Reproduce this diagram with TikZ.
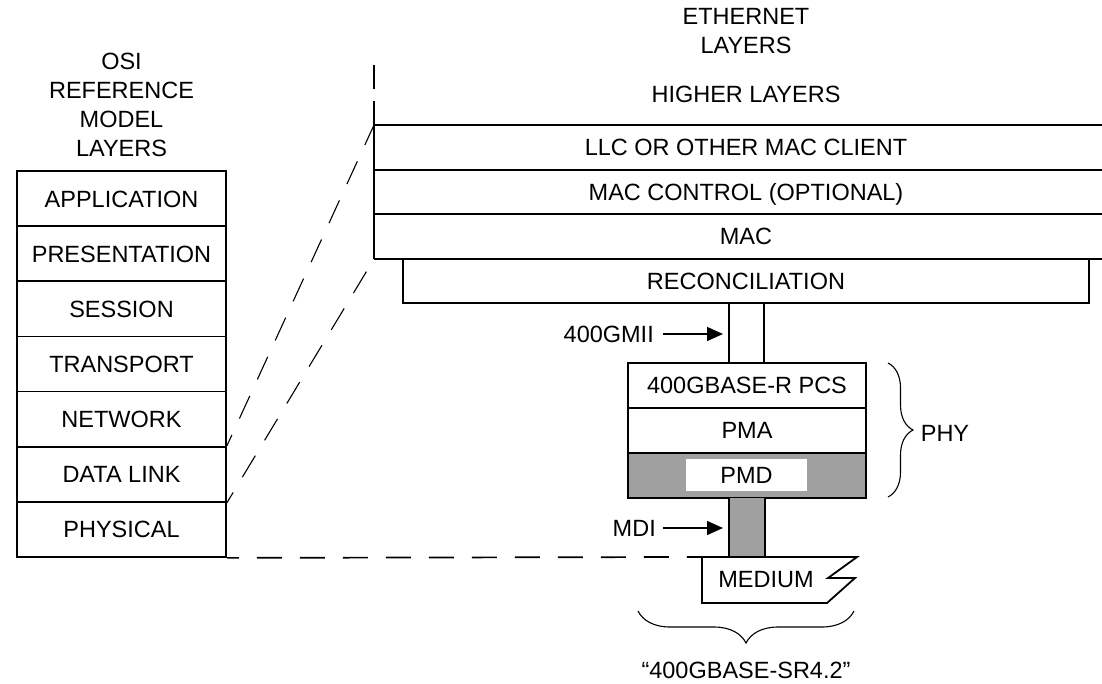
\documentclass[tikz,border=0pt]{standalone}
\usepackage{fontspec}
\setmainfont{Liberation Sans}
\usetikzlibrary{arrows.meta,decorations.pathreplacing}
\definecolor{pgray}{HTML}{A0A0A0}
\begin{document}
\begin{tikzpicture}[x=1pt,y=-1pt,
  font=\fontsize{23.5}{29}\selectfont,
  box/.style={draw, line width=1.8pt, inner sep=0pt, text height=16.8pt, text depth=0pt},
  osibox/.style={box, minimum width=209pt, minimum height=55.14pt},
  ethbox/.style={box, minimum width=238pt, minimum height=45pt},
  lbl/.style={inner sep=0pt, text height=16.8pt, text depth=0pt},
  title/.style={align=center, inner sep=0pt},
  rule/.style={line width=1.8pt},
  conn/.style={line width=1.5pt},
  lead/.style={dash pattern=on 25pt off 18pt, dash phase=13pt, line width=1.1pt},
  leadh/.style={dash pattern=on 25pt off 18pt, dash phase=13pt, line width=1.7pt},
  arr/.style={-{Triangle[length=16pt,width=14pt]}, line width=1.5pt},
  bracestyle/.style={decorate, line width=1.1pt},
]
\useasboundingbox (0,0) rectangle (1102,683);

% ---------- OSI column ----------
\node[title] (osititle) at (121.5,105.4) {OSI\\REFERENCE\\MODEL\\LAYERS};
\node[osibox] (app)  at (121.5,198.6) {APPLICATION};
\node[osibox] (pres) at (121.5,253.7) {PRESENTATION};
\node[osibox] (sess) at (121.5,308.9) {SESSION};
\node[osibox] (trans) at (121.5,364.0) {TRANSPORT};
\node[osibox] (net)  at (121.5,419.1) {NETWORK};
\node[osibox] (dl)   at (121.5,474.3) {DATA LINK};
\node[osibox] (phys) at (121.5,529.4) {PHYSICAL};

% ---------- Ethernet column ----------
\node[title] (ethtitle) at (746,31.5) {ETHERNET\\LAYERS};
\node[lbl] (higher) at (746,94) {HIGHER LAYERS};

\coordinate (eTop) at (374,65);
\coordinate (eA) at (374,125);
\coordinate (eB) at (374,170);
\coordinate (eC) at (374,214);
\coordinate (eD) at (374,259);
\coordinate (rA) at (1104,125);
\coordinate (rB) at (1104,170);
\coordinate (rC) at (1104,214);
\coordinate (rD) at (1104,259);

\draw[rule, dash pattern=on 24pt off 12pt] (eTop) -- (eA);
\draw[rule] (eA) -- (eD);
\draw[rule] (eA) -- (rA);
\draw[rule] (eB) -- (rB);
\draw[rule] (eC) -- (rC);

\node[lbl] (llc) at (746,147.5) {LLC OR OTHER MAC CLIENT};
\node[lbl] (macc) at (746,192) {MAC CONTROL (OPTIONAL)};
\node[lbl] (mac) at (746,236.5) {MAC};

\node[box, minimum width=686pt, minimum height=44pt] (rec) at (746,281) {RECONCILIATION};
\draw[rule] (eD) -- (rD);

% ---------- PHY stack ----------
\node[ethbox] (pcs) at (747,385.5) {400GBASE-R PCS};
\node[ethbox] (pma) at (747,430.5) {PMA};
\node[ethbox, fill=pgray] (pmd) at (747,475.5) {};
\node[fill=white, minimum width=121pt, minimum height=32pt, inner sep=0pt, text height=16.8pt, text depth=0pt] (pmdtext) at (746.5,475) {PMD};

% 400GMII
\coordinate (gL) at (729,330);
\coordinate (gR) at (764,330);
\draw[conn] (rec.south -| gL) -- (pcs.north -| gL);
\draw[conn] (rec.south -| gR) -- (pcs.north -| gR);
\node[lbl, anchor=east] (gmii) at (654,334) {400GMII};
\coordinate (gmiitip) at (723,334);
\draw[arr] ([xshift=9pt]gmii.east) -- (gmiitip);

% MDI
\node[fill=pgray, minimum width=36pt, minimum height=59pt, inner sep=0pt] (mdibar) at (747,527.5) {};
\draw[rule] (mdibar.north west) -- (mdibar.south west);
\draw[rule] (mdibar.north east) -- (mdibar.south east);
\node[lbl, anchor=east] (mdi) at (656,528) {MDI};
\coordinate (mditip) at (723,528);
\draw[arr] ([xshift=7pt]mdi.east) -- (mditip);

% Medium
\coordinate (mTL) at (689,557);
\draw[rule, fill=white, line join=miter] (702,557) -- (857,557) -- (828,578) -- (855,578) -- (827,603) -- (702,603) -- cycle;
\draw[rule] (mTL) -- (702,557);
\node[lbl] (medium) at (766,579.5) {MEDIUM};

% ---------- dashed leaders ----------
\draw[lead] (dl.north east) -- (eA);
\draw[lead] (dl.south east) -- (eD);
\draw[leadh] (phys.south east) -- (mTL);

% ---------- braces ----------
\coordinate (phyTop) at (888,363);
\coordinate (phyBot) at (888,497);
\draw[bracestyle, decoration={brace, amplitude=25pt}] (phyTop) -- (phyBot);
\node[lbl] (phy) at (945,433) {PHY};

\coordinate (bR) at (854,611);
\coordinate (bL) at (638,611);
\draw[bracestyle, decoration={brace, amplitude=32pt}] (bR) -- (bL);
\node[lbl] (sr) at (746,670) {“400GBASE-SR4.2”};
\end{tikzpicture}
\end{document}
